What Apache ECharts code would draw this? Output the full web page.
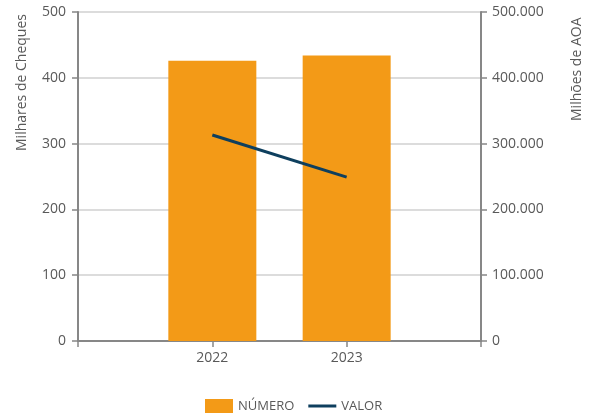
<!DOCTYPE html>
<html>
<head>
<meta charset="utf-8">
<script src="https://cdn.jsdelivr.net/npm/echarts@6/dist/echarts.min.js"></script>
<style>
  html, body { margin: 0; padding: 0; background: #fff; }
  #chart { width: 591px; height: 418px; }
</style>
</head>
<body>
<div id="chart"></div>
<script>
// categorias (pontas vazias para reproduzir o eixo do original)
var years = ['', '2022', '2023', ''];
var numero = [null, 426, 434, null];       // milhares de cheques
var valor = [null, 313000, 249000, null];  // milhões de AOA
var leftTicks = [0, 100, 200, 300, 400, 500];

var chart = echarts.init(document.getElementById('chart'));

var axisColor = '#878787';
var labelColor = '#595959';
var fontFamily = 'Open Sans';

function fmtThousands(v) {
  return String(v).replace(/\B(?=(\d{3})+(?!\d))/g, '.');
}

var option = {
  animation: false,
  textStyle: { fontFamily: fontFamily },
  grid: { left: 78, right: 110, top: 12, bottom: 77 },
  legend: {
    bottom: 0,
    left: 200,
    itemWidth: 28,
    itemHeight: 14,
    itemGap: 14,
    textStyle: { color: labelColor, fontSize: 13, fontFamily: fontFamily },
    data: [
      { name: 'NÚMERO', icon: 'rect' },
      { name: 'VALOR', icon: 'path://M0,0 H28 V3 H0 Z' }
    ]
  },
  xAxis: {
    type: 'category',
    data: years,
    boundaryGap: false,
    axisLine: { lineStyle: { color: axisColor, width: 2 } },
    axisTick: { show: true, length: 6, lineStyle: { color: axisColor, width: 1.5 } },
    axisLabel: { color: labelColor, fontSize: 14, margin: 10 }
  },
  yAxis: [
    {
      type: 'value',
      min: 0,
      max: leftTicks[leftTicks.length - 1],
      interval: 100,
      axisLine: { show: true, lineStyle: { color: axisColor, width: 2 } },
      axisTick: { show: true, length: 6, lineStyle: { color: axisColor, width: 1.5 } },
      axisLabel: { color: labelColor, fontSize: 14, margin: 12 },
      splitLine: { lineStyle: { color: '#dcdcdc', width: 2 } }
    },
    {
      type: 'value',
      min: 0,
      max: 500000,
      interval: 100000,
      axisLine: { show: true, lineStyle: { color: axisColor, width: 2 } },
      axisTick: { show: true, length: 6, lineStyle: { color: axisColor, width: 1.5 } },
      axisLabel: { color: labelColor, fontSize: 14, margin: 11, formatter: fmtThousands },
      splitLine: { show: false }
    }
  ],
  graphic: [
    {
      type: 'text',
      x: 15, y: 151,
      rotation: Math.PI / 2,
      style: { text: 'Milhares de Cheques', fill: labelColor, font: '14px ' + fontFamily }
    },
    {
      type: 'text',
      x: 570, y: 121,
      rotation: Math.PI / 2,
      style: { text: 'Milhões de AOA', fill: labelColor, font: '14px ' + fontFamily }
    }
  ],
  series: [
    {
      name: 'NÚMERO',
      type: 'bar',
      data: numero,
      barWidth: 88,
      itemStyle: { color: '#F39A17' }
    },
    {
      name: 'VALOR',
      type: 'line',
      yAxisIndex: 1,
      data: valor,
      symbol: 'none',
      connectNulls: false,
      lineStyle: { color: '#0E3F5E', width: 3 },
      itemStyle: { color: '#0E3F5E' }
    }
  ]
};

chart.setOption(option);
</script>
</body>
</html>
